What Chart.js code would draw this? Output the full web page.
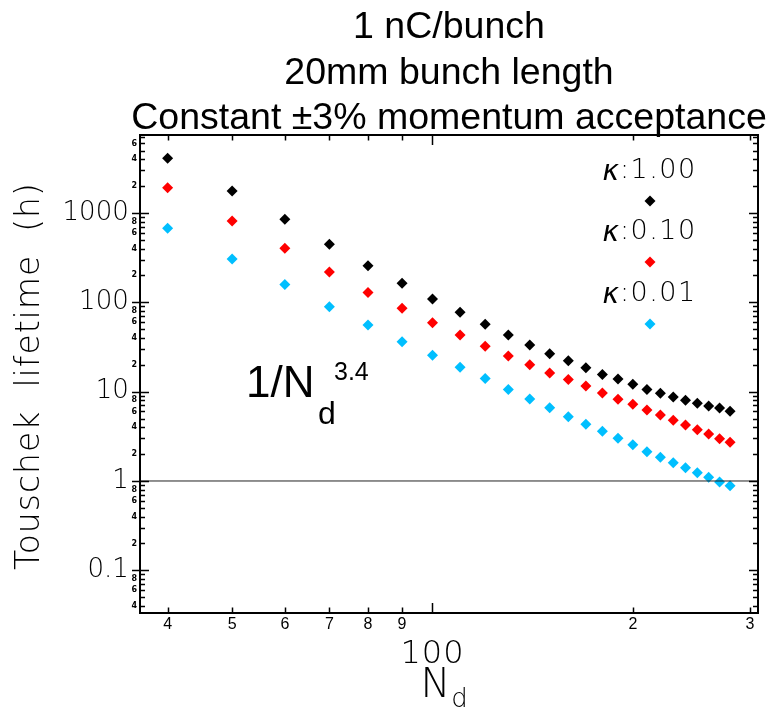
<!DOCTYPE html>
<html>
<head>
<meta charset="utf-8">
<script src="https://cdn.jsdelivr.net/npm/chart.js@4/dist/chart.umd.min.js"></script>
<style>
  html, body { margin: 0; padding: 0; background: #fff; }
  canvas { display: block; }
</style>
</head>
<body>
<canvas id="chart" width="769" height="710"></canvas>
<script>
// number of dipoles
const nd = [40, 50, 60, 70, 80, 90, 100, 110, 120, 130, 140, 150, 160, 170, 180,
  190, 200, 210, 220, 230, 240, 250, 260, 270, 280];

// Touschek lifetime (h) for each coupling
const kappa100 = [4096, 1763, 850, 446, 257, 163, 109, 77.3, 56.8, 43.1, 33.3, 26.6,
  22.2, 18.5, 15.6, 13.9, 12.1, 10.6, 9.59, 8.71, 8.0, 7.41, 6.91, 6.56, 6.03];
const kappa010 = [1920, 814, 403, 219, 129, 85.8, 59.1, 43.1, 32.2, 25.1, 20.0, 16.2,
  13.7, 11.6, 9.66, 8.2, 7.22, 6.24, 5.48, 4.78, 4.23, 3.75, 3.36, 2.98, 2.71];
const kappa001 = [674, 306, 158, 89.3, 55.7, 36.3, 25.5, 18.7, 14.0, 10.6, 8.28, 6.62,
  5.25, 4.32, 3.6, 3.01, 2.55, 2.13, 1.84, 1.60, 1.41, 1.24, 1.10, 0.975, 0.886];

const seriesLabels = ["κ:1.00", "κ:0.10", "κ:0.01"];
const seriesColors = ["#000000", "#ff0000", "#00bfff"];

const titleLines = ["1 nC/bunch", "20mm bunch length", "Constant ±3% momentum acceptance"];

// axes
const xMin = 36.35, xMax = 308.4;
const yMin = 0.0333, yMax = 7460;
const xTickValues = [40, 50, 60, 70, 80, 90, 100, 200, 300];
const xTickLabels = ["4", "5", "6", "7", "8", "9", "", "2", "3"];
const yDecades = [0.01, 0.1, 1, 10, 100, 1000];
const yMajorLabels = ["0.01", "0.1", "1", "10", "100", "1000"];
const yMinorLabelled = [2, 4, 6, 8];

const THIN = '"DejaVu Sans"';

// build the y tick list (1..9 per decade inside the range)
const yTicks = [];
yDecades.forEach((d, i) => {
  for (let m = 1; m <= 9; m++) {
    const v = +(m * d).toPrecision(6);
    if (v < yMin || v > yMax) continue;
    let label = "";
    if (m === 1) label = yMajorLabels[i] + " ";
    else if (yMinorLabelled.includes(m)) label = String(m);
    yTicks.push({ value: v, major: m === 1, label });
  }
});

function diamond(ctx, x, y, r) {
  ctx.beginPath();
  ctx.moveTo(x - r, y);
  ctx.lineTo(x, y - r);
  ctx.lineTo(x + r, y);
  ctx.lineTo(x, y + r);
  ctx.closePath();
  ctx.fill();
}

const decorations = {
  id: "decorations",
  afterDraw(chart) {
    const { ctx, chartArea: a, scales: { x, y } } = chart;
    ctx.save();

    // frame
    ctx.strokeStyle = "#000";
    ctx.lineWidth = 2;
    ctx.strokeRect(a.left, a.top, a.right - a.left, a.bottom - a.top);

    // inward ticks on all sides
    ctx.lineWidth = 1.5;
    ctx.beginPath();
    x.ticks.forEach(t => {
      const px = Math.round(x.getPixelForValue(t.value)) + 0.5;
      const len = t.major ? 10 : 5.5;
      ctx.moveTo(px, a.bottom); ctx.lineTo(px, a.bottom - len);
      ctx.moveTo(px, a.top); ctx.lineTo(px, a.top + len);
    });
    y.ticks.forEach(t => {
      const py = Math.round(y.getPixelForValue(t.value)) + 0.5;
      const len = t.major ? 9 : 5;
      ctx.moveTo(a.left - (t.major ? 8 : 0), py); ctx.lineTo(a.left + len, py);
      ctx.moveTo(a.right, py); ctx.lineTo(a.right - len, py);
    });
    ctx.stroke();

    // title
    ctx.fillStyle = "#000";
    ctx.textAlign = "center";
    ctx.textBaseline = "alphabetic";
    ctx.font = '37.5px "Liberation Sans", Arial, sans-serif';
    const cx = (a.left + a.right) / 2;
    [38, 84, 129].forEach((by, i) => ctx.fillText(titleLines[i], cx, by));

    // legend: italic kappa, thin value
    const legY = [171, 232, 294];
    const kFont = "italic 200 28px " + THIN;
    const vFont = "200 27px " + THIN;
    ctx.textAlign = "left";
    ctx.textBaseline = "middle";
    chart.data.datasets.filter(ds => ds.showInLegend).forEach((ds, i) => {
      const sym = ds.label.slice(0, 1), rest = ds.label.slice(1);
      ctx.letterSpacing = "0px";
      ctx.font = kFont;
      const wk = ctx.measureText(sym).width;
      ctx.font = vFont;
      ctx.letterSpacing = "1.5px";
      const wr = ctx.measureText(rest).width;
      const x0 = 649 - (wk + wr) / 2;
      ctx.fillStyle = "#000";
      ctx.letterSpacing = "0px";
      ctx.font = kFont;
      ctx.fillText(sym, x0, legY[i] + 2);
      ctx.font = vFont;
      ctx.letterSpacing = "1.5px";
      ctx.fillText(rest, x0 + wk + 1, legY[i]);
      ctx.fillStyle = ds.backgroundColor;
      diamond(ctx, 650, legY[i] + 30, 5.5);
    });
    ctx.letterSpacing = "0px";

    // power-law note
    ctx.fillStyle = "#000";
    ctx.textAlign = "left";
    ctx.textBaseline = "alphabetic";
    ctx.font = '44px "Liberation Sans", Arial, sans-serif';
    ctx.fillText("1/N", 246, 397);
    ctx.font = '32px "Liberation Sans", Arial, sans-serif';
    ctx.fillText("d", 318, 424);
    ctx.font = '25px "Liberation Sans", Arial, sans-serif';
    ctx.fillText("3.4", 334, 380);

    // x axis labels
    ctx.textAlign = "center";
    ctx.font = "200 32px " + THIN;
    ctx.letterSpacing = "1px";
    ctx.fillText("100", x.getPixelForValue(100), 663);
    ctx.font = "200 40px " + THIN;
    ctx.fillText("N", 436, 697);
    ctx.font = "200 26px " + THIN;
    ctx.fillText("d", 460, 707);

    // y axis title
    ctx.translate(30, 376);
    ctx.rotate(-Math.PI / 2);
    ctx.textBaseline = "middle";
    ctx.font = "200 33px " + THIN;
    ctx.letterSpacing = "1px";
    ctx.fillText("Touschek  lifetime  (h)", 0, 0);
    ctx.restore();
  }
};

const datasets = [kappa100, kappa010, kappa001].map((vals, i) => ({
  label: seriesLabels[i],
  showInLegend: true,
  data: nd.map((n, j) => ({ x: n, y: vals[j] })),
  backgroundColor: seriesColors[i],
  borderColor: seriesColors[i],
  borderWidth: 0,
  pointStyle: "rectRot",
  pointRadius: 5.5,
  pointHoverRadius: 5.5,
  showLine: false
}));

// reference line at 1 h
datasets.unshift({
  label: "1 h",
  showInLegend: false,
  type: "line",
  data: [{ x: xMin, y: 1 }, { x: xMax, y: 1 }],
  borderColor: "#222",
  borderWidth: 1,
  pointRadius: 0
});

new Chart(document.getElementById("chart"), {
  type: "scatter",
  data: { datasets },
  options: {
    responsive: false,
    animation: false,
    devicePixelRatio: 1,
    layout: { padding: { top: 135, right: 11, left: 0, bottom: 0 } },
    plugins: { legend: { display: false }, tooltip: { enabled: false } },
    scales: {
      x: {
        type: "logarithmic",
        min: xMin,
        max: xMax,
        border: { display: false },
        grid: { display: false, drawTicks: false },
        afterFit: s => { s.height = 97; },
        afterBuildTicks: s => {
          s.ticks = xTickValues.map(v => ({ value: v, major: v === 100 }));
        },
        ticks: {
          autoSkip: false,
          maxRotation: 0,
          padding: 2,
          color: "#000",
          font: { family: '"Liberation Sans", Arial, sans-serif', size: 16 },
          callback: (v, i) => xTickLabels[i]
        }
      },
      y: {
        type: "logarithmic",
        min: yMin,
        max: yMax,
        border: { display: false },
        grid: { display: false, drawTicks: false },
        afterFit: s => { s.width = 140; },
        afterBuildTicks: s => {
          s.ticks = yTicks.map(t => ({ value: t.value, major: t.major }));
        },
        ticks: {
          autoSkip: false,
          padding: 3,
          color: "#000",
          font: ctx => ctx.tick && ctx.tick.major
            ? { family: THIN, size: 26, weight: 200 }
            : { family: THIN, size: 8, weight: "bold" },
          callback: (v, i) => yTicks[i].label
        }
      }
    }
  },
  plugins: [decorations]
});
</script>
</body>
</html>
